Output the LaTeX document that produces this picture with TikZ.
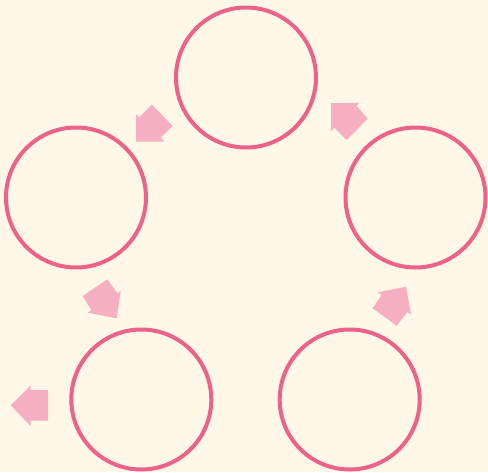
\documentclass[tikz,border=0pt]{standalone}
\definecolor{bgcol}{RGB}{255,248,232}
\definecolor{ringcol}{RGB}{237,98,135}
\definecolor{arrowcol}{RGB}{245,175,192}
\begin{document}
\begin{tikzpicture}[x=1pt,y=-1pt,
  ring/.style={circle,draw=ringcol,line width=4pt,minimum size=140pt,inner sep=0pt},
  blockarrow/.style={fill=arrowcol,draw=none}]
\fill[bgcol] (0,0) rectangle (488,472);
\useasboundingbox (0,0) rectangle (488,472);
\node[ring] (top) at (246,77.5) {};
\node[ring] (right) at (415.5,197.5) {};
\node[ring] (left) at (76,197.5) {};
\node[ring] (botleft) at (141.3,399.5) {};
\node[ring] (botright) at (349.7,399.5) {};
% block arrows
\fill[blockarrow] (136,141.7) -- (164.7,141.7) -- (160.7,137.7) -- (172.7,126) -- (152,104.7) -- (139.3,117.3) -- (136,114) -- cycle;
\fill[blockarrow] (331,103) -- (359.3,103) -- (356.7,106) -- (367.7,118.7) -- (346.7,140) -- (334.3,127.7) -- (331,131.7) -- cycle;
\fill[blockarrow] (82.7,296) -- (107.3,279.3) -- (117.3,293.3) -- (120.7,290.7) -- (116.7,318.3) -- (88,312.7) -- (91.3,310) -- cycle;
\fill[blockarrow] (372.7,308.3) -- (381.7,295) -- (377.7,292.3) -- (406,286.7) -- (411,314.3) -- (407.3,312) -- (396.7,325.7) -- cycle;
\fill[blockarrow] (10.7,405.3) -- (30.7,385.3) -- (30.7,390) -- (48,390) -- (48,420.7) -- (30.7,420.7) -- (30.7,426) -- cycle;
\end{tikzpicture}
\end{document}
